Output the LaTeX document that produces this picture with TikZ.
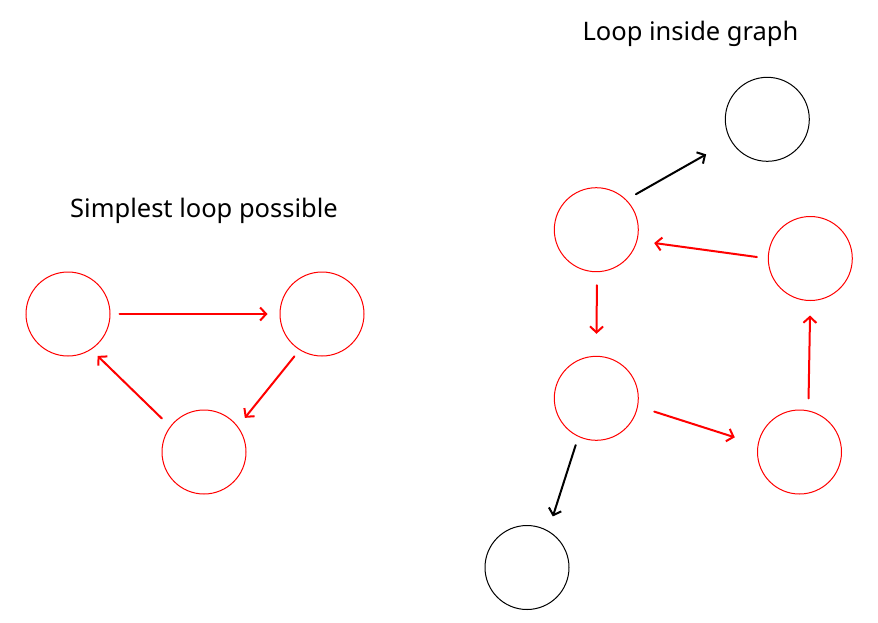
\documentclass[tikz,border=0pt]{standalone}
\usepackage{fontspec}
\setmainfont{Noto Sans}
\usetikzlibrary{arrows.meta}
\definecolor{loopred}{RGB}{255,0,0}
\tikzset{
  vtx/.style={circle, draw, line width=1pt, minimum size=84pt, inner sep=0pt},
  redvtx/.style={vtx, draw=loopred},
  blackvtx/.style={vtx, draw=black},
  arr/.style={line width=2pt, line cap=round, -{Straight Barb[length=6pt,width=13pt,line width=2pt]}},
  redarr/.style={arr, draw=loopred},
  blackarr/.style={arr, draw=black},
  ttl/.style={anchor=base, font=\fontsize{25.5}{30}\selectfont, inner sep=0pt}
}
\begin{document}
\begin{tikzpicture}[x=1pt,y=-1pt]
\useasboundingbox (0,0) rectangle (878,622);
% titles
\node[ttl] (t1) at (204,217) {Simplest loop possible};
\node[ttl] (t2) at (690.5,40) {Loop inside graph};
% left loop
\node[redvtx] (A) at (68,314) {};
\node[redvtx] (B) at (322,314) {};
\node[redvtx] (C) at (204,452) {};
\draw[redarr, shorten <=9pt, shorten >=12pt] (A.0) -- (B.180);
\draw[redarr, shorten <=8pt, shorten >=11pt] (B.-122.7) -- (C.37.3);
\draw[redarr, shorten <=11.5pt, shorten >=9pt] (C.143.3) -- (A.-57);
% right graph
\node[blackvtx] (T) at (767.3,119.3) {};
\node[redvtx] (R1) at (596.3,229.7) {};
\node[redvtx] (R2) at (810.3,258.5) {};
\node[redvtx] (R3) at (596.3,398.3) {};
\node[redvtx] (R4) at (799.5,452) {};
\node[blackvtx] (Bt) at (527,567.5) {};
\draw[blackarr, shorten <=11pt, shorten >=28pt] (R1.45.8) -- (T.-150.7);
\draw[redarr, shorten <=11pt, shorten >=17pt] (R2.180.5) -- (R1.-15.3);
\draw[redarr, shorten <=13pt, shorten >=22pt] (R1.-89) -- (R3.90);
\draw[redarr, shorten <=17pt, shorten >=24pt] (R3.-11.5) -- (R4.170.2);
\draw[redarr, shorten <=12pt, shorten >=14.5pt] (R4.78.8) -- (R2.-90);
\draw[blackarr, shorten <=8.7pt, shorten >=15pt] (R3.-115.7) -- (Bt.60.6);
\end{tikzpicture}
\end{document}
